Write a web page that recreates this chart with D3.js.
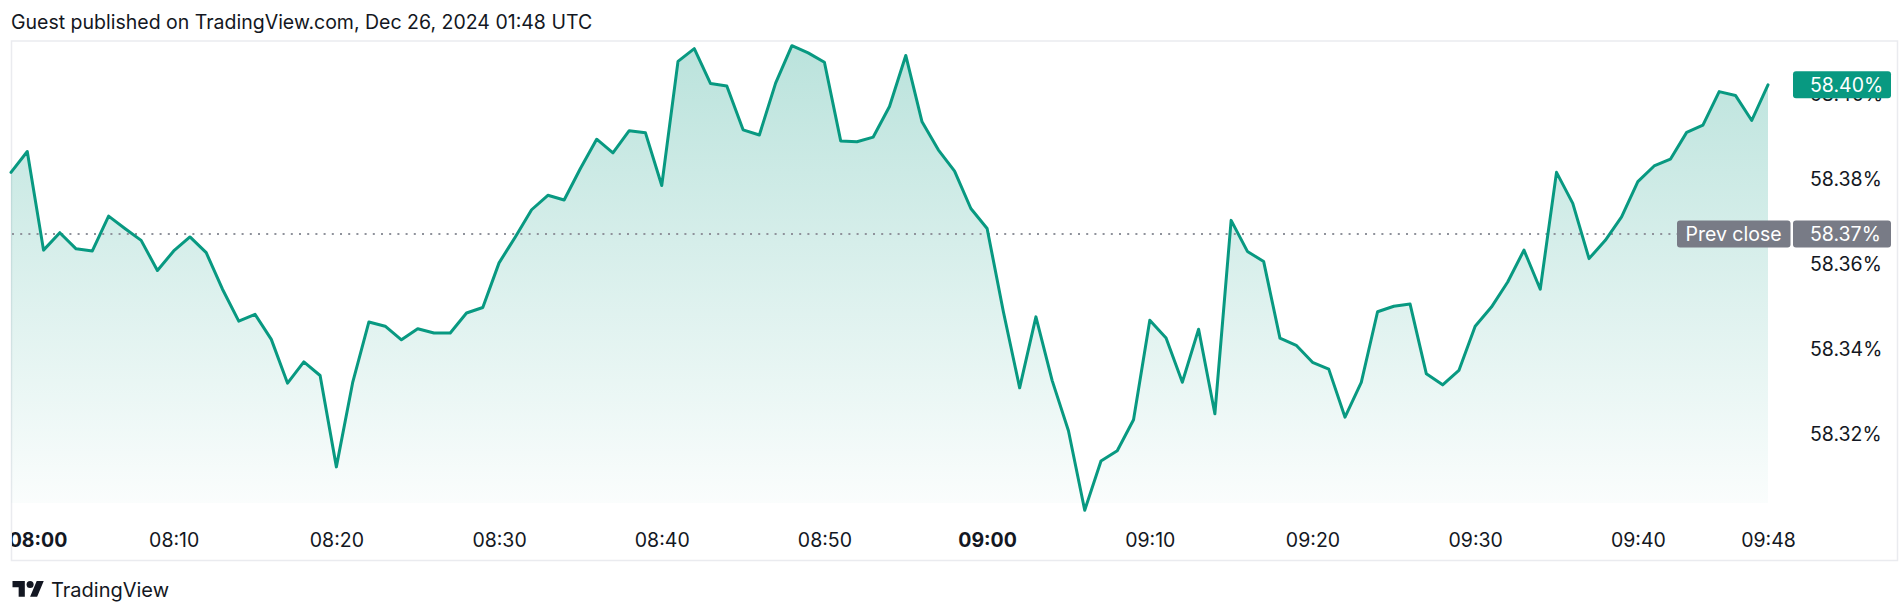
<!DOCTYPE html>
<html>
<head>
<meta charset="utf-8">
<script src="https://cdn.jsdelivr.net/npm/d3@7"></script>
<style>
html,body{margin:0;padding:0;background:#fff;}
svg{display:block;font-family:Inter,"Noto Sans",sans-serif;}
</style>
</head>
<body>
<svg id="chart" width="1900" height="608"></svg>
<script>
// ---------- data ----------
const titleText = "Guest published on TradingView.com, Dec 26, 2024 01:48 UTC";
const startTime = "08:00";
const values = [
  58.3814, 58.3863, 58.3631, 58.3672, 58.3634, 58.3629, 58.3711, 58.3682, 58.3654, 58.3583,
  58.3629, 58.3662, 58.3625, 58.3539, 58.3464, 58.3480, 58.3421, 58.3318, 58.3368, 58.3336,
  58.3121, 58.3319, 58.3462, 58.3452, 58.3420, 58.3446, 58.3436, 58.3436, 58.3483, 58.3496,
  58.3601, 58.3662, 58.3726, 58.3760, 58.3749, 58.3823, 58.3892, 58.3860, 58.3912, 58.3907,
  58.3783, 58.4075, 58.4105, 58.4023, 58.4017, 58.3914, 58.3902, 58.4024, 58.4112, 58.4095,
  58.4073, 58.3888, 58.3886, 58.3897, 58.3969, 58.4089, 58.3933, 58.3867, 58.3817, 58.3729,
  58.3682, 58.3486, 58.3307, 58.3474, 58.3324, 58.3206, 58.3019, 58.3135, 58.3159, 58.3232,
  58.3466, 58.3424, 58.3320, 58.3445, 58.3246, 58.3701, 58.3628, 58.3604, 58.3424, 58.3407,
  58.3367, 58.3351, 58.3238, 58.3320, 58.3486, 58.3499, 58.3504, 58.3340, 58.3314, 58.3348,
  58.3452, 58.3497, 58.3556, 58.3631, 58.3539, 58.3814, 58.3741, 58.3611, 58.3654, 58.3709,
  58.3792, 58.3829, 58.3845, 58.3908, 58.3925, 58.4004, 58.3995, 58.3936, 58.4020
];
const prevClose = 58.3669;
const yTickValues = [58.32, 58.34, 58.36, 58.38, 58.40];
const xTickLabels = ["08:00","08:10","08:20","08:30","08:40","08:50","09:00","09:10","09:20","09:30","09:40","09:48"];
const boldTickLabels = ["08:00","09:00"];
const prevCloseLabel = "Prev close";
const brandText = "TradingView";

// ---------- setup ----------
const parseT = d3.timeParse("%H:%M");
const fmtT = d3.timeFormat("%H:%M");
const t0 = parseT(startTime);
const series = values.map((v, i) => ({ t: d3.timeMinute.offset(t0, i), v }));

const svg = d3.select("#chart");
const GREEN = "#089981";
const TEXT = "#131722";

const x = d3.scaleTime()
  .domain([series[0].t, series[series.length - 1].t])
  .range([11, 1768]);
const y = d3.scaleLinear().domain([58.32, 58.40]).range([433.3, 93.3]);
const paneBottom = 503;

// defs
const defs = svg.append("defs");
const grad = defs.append("linearGradient")
  .attr("id", "areaGrad").attr("gradientUnits", "userSpaceOnUse")
  .attr("x1", 0).attr("x2", 0).attr("y1", 41).attr("y2", paneBottom);
grad.append("stop").attr("offset", 0).attr("stop-color", GREEN).attr("stop-opacity", 0.28);
grad.append("stop").attr("offset", 1).attr("stop-color", GREEN).attr("stop-opacity", 0.02);
defs.append("clipPath").attr("id", "axisClip")
  .append("rect").attr("x", 12).attr("y", 500).attr("width", 1885).attr("height", 60);

// header
svg.append("text")
  .attr("x", 11).attr("y", 28.5)
  .attr("font-size", 19.5).attr("fill", TEXT)
  .text(titleText);

// frame
svg.append("rect")
  .attr("x", 11.5).attr("y", 41).attr("width", 1886).attr("height", 519.5)
  .attr("fill", "none").attr("stroke", "#eaebef").attr("stroke-width", 1.5);

// area + line
const area = d3.area()
  .x(d => x(d.t)).y0(paneBottom).y1(d => y(d.v));
svg.append("path").datum(series)
  .attr("d", area).attr("fill", "url(#areaGrad)");

// prev close dotted line
svg.append("line")
  .attr("x1", 12).attr("x2", 1677)
  .attr("y1", y(prevClose)).attr("y2", y(prevClose))
  .attr("stroke", "#8f929b").attr("stroke-width", 2)
  .attr("stroke-dasharray", "2,6.2");

const line = d3.line().x(d => x(d.t)).y(d => y(d.v));
svg.append("path").datum(series)
  .attr("d", line).attr("fill", "none")
  .attr("stroke", GREEN).attr("stroke-width", 3)
  .attr("stroke-linejoin", "round").attr("stroke-linecap", "round");

// y axis (right)
const yAxis = d3.axisRight(y)
  .tickValues(yTickValues)
  .tickFormat(d => d.toFixed(2) + "%")
  .tickSize(0).tickPadding(0);
const gy = svg.append("g").attr("transform", "translate(1810,0)").call(yAxis);
gy.select(".domain").remove();
gy.selectAll("text")
  .attr("font-family", "Inter,'Noto Sans',sans-serif")
  .attr("font-size", 19.5).attr("fill", TEXT)
  .attr("text-anchor", "start").attr("dy", "0.36em");

// x axis
const xTicks = xTickLabels.map(s => parseT(s));
const xAxis = d3.axisBottom(x)
  .tickValues(xTicks).tickFormat(fmtT)
  .tickSize(0).tickPadding(0);
const clipG = svg.append("g").attr("clip-path", "url(#axisClip)");
const gx = clipG.append("g").attr("transform", "translate(0,540)").call(xAxis);
gx.select(".domain").remove();
gx.selectAll("text")
  .attr("font-family", "Inter,'Noto Sans',sans-serif")
  .attr("font-size", 19.5).attr("fill", TEXT)
  .attr("y", 0).attr("dy", "0.36em")
  .attr("font-weight", d => boldTickLabels.includes(fmtT(d)) ? 700 : 400);
// first label is pushed inside the pane and clipped at the frame edge
gx.selectAll(".tick").filter((d, i) => i === 0)
  .attr("transform", "translate(38,0)");

// last value badge
const last = series[series.length - 1];
const ly = y(last.v);
svg.append("rect")
  .attr("x", 1793).attr("y", ly - 13.5).attr("width", 98).attr("height", 27)
  .attr("rx", 3).attr("fill", GREEN);
svg.append("text")
  .attr("x", 1810).attr("y", ly).attr("dy", "0.36em")
  .attr("font-size", 19.5).attr("fill", "#fff")
  .text(last.v.toFixed(2) + "%");

// prev close badges
const py = y(prevClose);
svg.append("rect")
  .attr("x", 1677).attr("y", py - 13.5).attr("width", 113.5).attr("height", 27)
  .attr("rx", 3).attr("fill", "#787b86");
svg.append("text")
  .attr("x", 1733.5).attr("y", py).attr("dy", "0.36em")
  .attr("text-anchor", "middle")
  .attr("font-size", 19.5).attr("fill", "#fff")
  .text(prevCloseLabel);
svg.append("rect")
  .attr("x", 1793).attr("y", py - 13.5).attr("width", 98).attr("height", 27)
  .attr("rx", 3).attr("fill", "#787b86");
svg.append("text")
  .attr("x", 1810).attr("y", py).attr("dy", "0.36em")
  .attr("font-size", 19.5).attr("fill", "#fff")
  .text(prevClose.toFixed(2) + "%");

// brand logo
const logo = svg.append("g").attr("transform", "translate(12.5,577.5) scale(0.88)").attr("fill", TEXT);
logo.append("path").attr("d", "M14 22H7V11H0V4h14v18zM28 22h-8l7.5-18h8L28 22z");
logo.append("circle").attr("cx", 20).attr("cy", 8).attr("r", 4);
svg.append("text")
  .attr("x", 51).attr("y", 597)
  .attr("font-size", 20).attr("fill", TEXT)
  .text(brandText);
</script>
</body>
</html>
